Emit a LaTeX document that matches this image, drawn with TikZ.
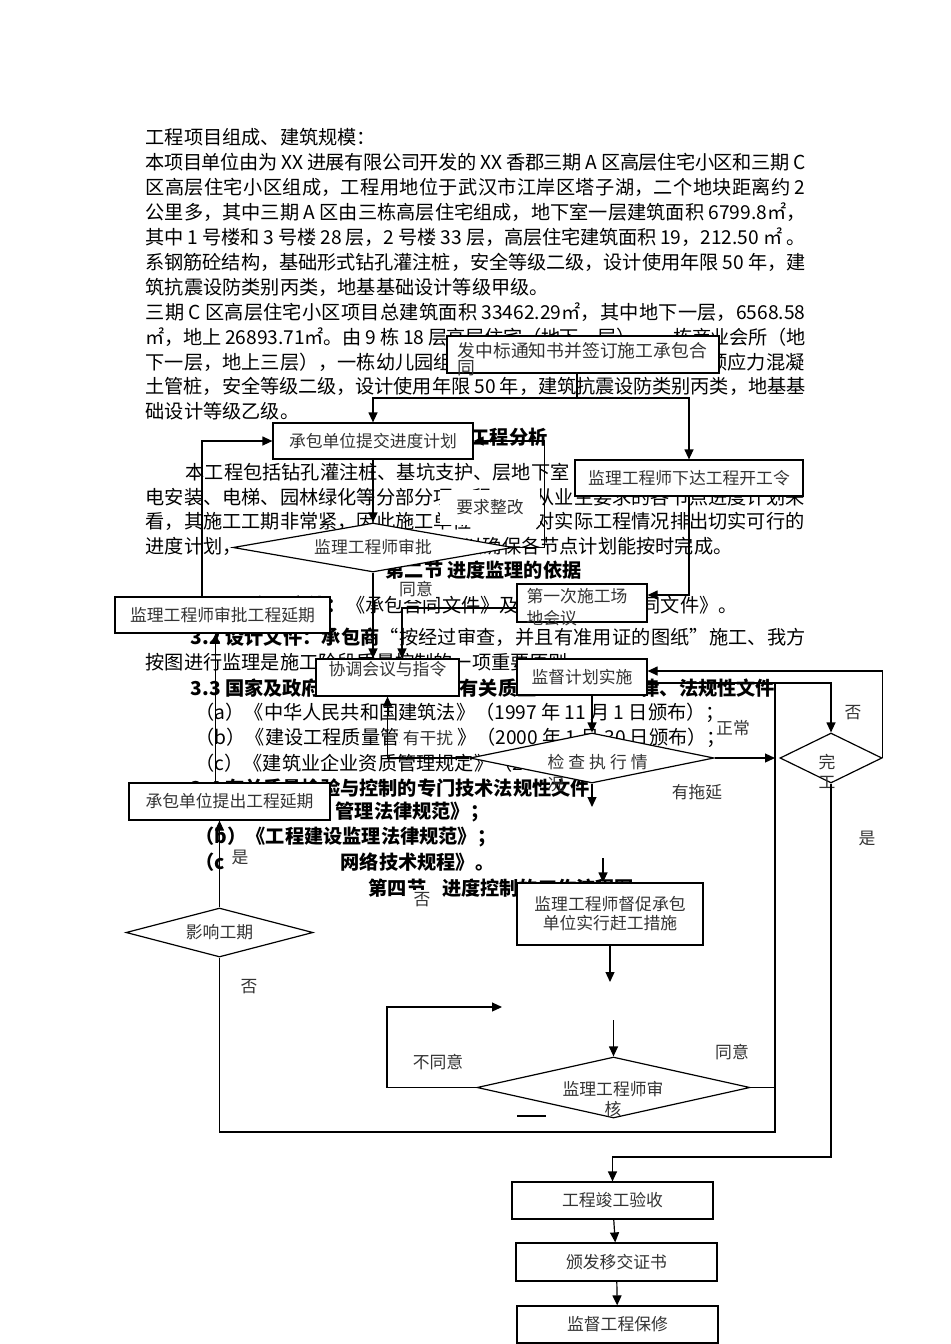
\documentclass[tikz,border=0pt]{standalone}
\usepackage{fontspec}
\setmainfont{Noto Sans CJK SC}
\usetikzlibrary{positioning,shapes.geometric,arrows.meta,calc}

\newcommand\docfont{\fontsize{9.6pt}{11pt}\selectfont}
\newcommand\flowfont{\fontsize{8.4pt}{9.6pt}\selectfont}
% one justified line of the page text
\newcommand\jline[2][330pt]{\parbox{#1}{\XeTeXlinebreaklocale "zh"\XeTeXlinebreakskip=0pt plus 6pt minus 0.6pt\relax
  \parfillskip=0pt\relax\tolerance=10000\relax #2}}

\tikzset{%
  flowarrow/.style = {-{Stealth[length=5pt,width=4.5pt,inset=0pt]}},
  r/.style = {rectangle,draw,fill=white,inner sep=0pt,font=\flowfont,text=black!80},
  dia/.style = {diamond,draw,fill=white,inner sep=0pt,font=\flowfont,text=black!80},
  lbl/.style = {fill=white,inner sep=1.5pt,font=\flowfont,text=black!80},
  ftext/.style = {inner sep=0pt,font=\flowfont,text=black!80},
  doc/.style = {anchor=west,inner sep=0pt,font=\docfont},
  head/.style = {anchor=west,inner sep=0pt,font=\docfont\bfseries}
}

\begin{document}
\begin{tikzpicture}[x=0.5pt,y=-0.5pt,line width=0.6pt]
  \useasboundingbox (0,0) rectangle (950,1344);

  % page text
  \node[doc] (t1) at (145,137) {工程项目组成、建筑规模：};
  \node[doc] (t2) at (145,162) {\jline{本项目单位由为 XX 进展有限公司开发的 XX 香郡三期 A 区高层住宅小区和三期 C}};
  \node[doc] (t3) at (145,187) {\jline{区高层住宅小区组成，工程用地位于武汉市江岸区塔子湖，二个地块距离约 2}};
  \node[doc] (t4) at (145,212) {\jline{公里多，其中三期 A 区由三栋高层住宅组成，地下室一层建筑面积 6799.8㎡，}};
  \node[doc] (t5) at (145,237) {\jline{其中 1 号楼和 3 号楼 28 层，2 号楼 33 层，高层住宅建筑面积 19，212.50 ㎡ 。}};
  \node[doc] (t6) at (145,262) {\jline{系钢筋砼结构，基础形式钻孔灌注桩，安全等级二级，设计使用年限 50 年，建}};
  \node[doc] (t7) at (145,287) {筑抗震设防类别丙类，地基基础设计等级甲级。};
  \node[doc] (t8) at (145,312) {\jline{三期 C 区高层住宅小区项目总建筑面积 33462.29㎡，其中地下一层，6568.58}};
  \node[doc] (t9) at (145,337) {\jline{㎡，地上 26893.71㎡。由 9 栋 18 层高层住宅（地下一层），一栋商业会所（地}};
  \node[doc] (t10a) at (145,362) {下一层，地上三层），一栋幼儿园组};
  \node[doc,anchor=east] (t10b) at (805,362) {预应力混凝};
  \node[doc] (t11) at (145,386) {\jline{土管桩，安全等级二级，设计使用年限 50 年，建筑抗震设防类别丙类，地基基}};
  \node[doc] (t12) at (145,411) {础设计等级乙级。};
  \node[head] (t13) at (470,437) {工程分析};
  \node[doc] (t14) at (185,472) {本工程包括钻孔灌注桩、基坑支护、层地下室};
  \node[doc] (t15a) at (145,497) {电安装、电梯、园林绿化等分部分项工程，};
  \node[doc,anchor=east] (t15b) at (805,497) {从业主要求的各节点进度计划来};
  \node[doc] (t16a) at (145,521) {看，其施工工期非常紧，因此施工单位};
  \node[doc,anchor=east] (t16b) at (805,521) {对实际工程情况排出切实可行的};
  \node[doc] (t17a) at (145,546) {进度计划，};
  \node[doc,anchor=east] (t17b) at (733,546) {以确保各节点计划能按时完成。};
  \node[head] (t18) at (385,570) {第二节\hspace{2pt}进度监理的依据};
  \node[doc] (t19a) at (215,605) {\textbf{3.1 合同文件：}《承包合同文件》及};
  \node[doc] (t19b) at (641,605) {同文件》。};
  \node[doc] (t20) at (190,637) {\jline[307.5pt]{\textbf{3.2 设计文件：承包商}“按经过审查，并且有准用证的图纸”施工、我方}};
  \node[doc] (t21) at (145,662) {按图进行监理是施工阶段质量控制的一项重要原则。};
  \node[head] (t22a) at (190,688) {3.3 国家及政府};
  \node[head] (t22b) at (459,688) {有关质量};
  \node[head] (t22c) at (640,688) {律、法规性文件};
  \node[doc] (t23) at (195,713) {（a）《中华人民共和国建筑法》（1997 年 11 月 1 日颁布）；};
  \node[doc] (t24) at (195,738) {（b）《建设工程质量管理条例》（2000 年 1 月 30 日颁布）；};
  \node[doc] (t25) at (195,763) {（c）《建筑业企业资质管理规定》（2001 年};
  \node[head] (t26) at (190,788) {3.4 有关质量检验与控制的专门技术法规性文件};
  \node[head] (t27) at (335,812) {管理法律规范》；};
  \node[head] (t28) at (195,837) {（b）《工程建设监理法律规范》；};
  \node[head] (t29a) at (195,862) {（c};
  \node[head] (t29b) at (340,862) {网络技术规程》。};
  \node[head] (t30) at (368,888) {第四节\hspace{8pt}进度控制的工作流程图};

  % flow chart
  \node[r, minimum width=136pt, minimum height=18.5pt] (award) at (583,354.5) {};
  \node[ftext, anchor=north west, align=left, font=\fontsize{8.9pt}{8.5pt}\selectfont] (award-text)
    at (457,342) {发中标通知书并签订施工承包合\\同};
  \node[r, minimum width=100pt, minimum height=18pt] (plan) at (373,441) {承包单位提交进度计划};
  \node[r, minimum width=114pt, minimum height=18pt] (start) at (689,478) {监理工程师下达工程开工令};
  \node[dia, aspect=5.7, minimum width=140pt, minimum height=24.5pt] (approve) at (373,547.5) {监理工程师审批};
  \node[r, minimum width=107.5pt, minimum height=18pt] (extapprove) at (222.5,615) {监理工程师审批工程延期};
  \node[r, minimum width=65pt, minimum height=19pt] (site) at (582,603) {};
  \node[ftext, anchor=north west, align=left] (site-text) at (526,588) {第一次施工场\\[1pt]地会议};
  \node[r, minimum width=71.5pt, minimum height=18.5pt, text depth=9pt] (coord) at (387.5,677.5) {协调会议与指令};
  \node[r, minimum width=65pt, minimum height=18pt] (monitor) at (582,677) {监督计划实施};
  \node[dia, aspect=4.9, minimum width=122pt, minimum height=25pt] (check) at (592,758) {};
  \node[ftext, anchor=north west, align=left] (check-text)
    at (547,754) {检\hspace{2pt}查\hspace{2pt}执\hspace{2pt}行\hspace{2pt}情\\[1.4pt]况};
  \node[dia, aspect=2.04, minimum width=51pt, minimum height=25pt] (done) at (831,758) {};
  \node[ftext, anchor=north, align=center] (done-text) at (827,754) {完\\[0.4pt]工};
  \node[r, minimum width=100.5pt, minimum height=18.5pt] (extreq) at (229.5,801.5) {承包单位提出工程延期};
  \node[r, minimum width=93pt, minimum height=31pt, align=center] (urge) at (610,914) {监理工程师督促承包\\单位实行赶工措施};
  \node[dia, aspect=3.8, minimum width=93.5pt, minimum height=24.5pt] (impact) at (219.5,932.5) {影响工期};
  \node[dia, aspect=4.5, minimum width=136.5pt, minimum height=30.5pt] (review) at (613.5,1087.5) {};
  \node[ftext, align=center] (review-text) at (613,1099) {监理工程师审\\核};
  \node[r, minimum width=100.5pt, minimum height=18.5pt] (accept) at (612.5,1200.5) {工程竣工验收};
  \node[r, minimum width=100.5pt, minimum height=19pt] (cert) at (616.5,1262) {颁发移交证书};
  \node[r, minimum width=100.5pt, minimum height=18.5pt] (warranty) at (617.5,1324.5) {监督工程保修};

  \coordinate (split) at (577,398);
  \coordinate (railtop) at (775,683);
  \coordinate (railbot) at (775,1132);
  \coordinate (delay) at (603,807);
  \coordinate (urgein) at (603,858);
  \coordinate (urgeout) at (609,982);
  \coordinate (revin) at (613.5,1020);
  \coordinate (loopx) at (387,1007);
  \coordinate (redo) at (502,1007);
  \coordinate (handover) at (831,1157);

  \draw (award.south -| split) -- (split);
  \draw[flowarrow] (split) -| (plan.north);
  \draw[flowarrow] (split) -| (start.north);
  \draw[flowarrow] (plan) -- (approve);
  \draw[flowarrow] (approve.east) -- ++(31,0) |- (plan.east);
  \draw[flowarrow] (approve.south) -- (approve.south |- coord.north);
  \draw[flowarrow] (start.south) |- ([yshift=4pt]site.east);
  \draw[flowarrow] ([yshift=-2.5pt]site.west) -| ($(coord.north)+(14.5,0)$);
  \draw[flowarrow] (check.west) -| (coord.south);
  \draw[flowarrow] (monitor.south -| check.north) -- (check.north);
  \draw[flowarrow] (check.east) -- (check.east -| railtop);
  \draw[flowarrow] (monitor.east |- railtop) -| (done.north);
  \draw (railtop) -- (railbot) -| (impact.south);
  \draw[flowarrow] (done.east) |- ([yshift=3pt]monitor.east);
  \draw[flowarrow] (done.south) -- (handover) -| (accept.north);
  \draw[flowarrow] (accept) -- (cert);
  \draw[flowarrow] (cert) -- (warranty);
  \draw[flowarrow] (check.south) -- (check.south |- delay);
  \draw[flowarrow] (urgein) -- (urgein |- urge.north);
  \draw[flowarrow] (urge.south) -- (urge.south |- urgeout);
  \draw[flowarrow] (revin) -- (review.north);
  \draw[flowarrow] (review.west) -| (loopx) -- (redo);
  \draw (review.east) -- (review.east -| railbot);
  \draw[flowarrow] (impact.north) -- (impact.north |- extreq.south);
  \draw[flowarrow] ([xshift=-7pt]extreq.north) -- ([xshift=-7pt]extreq.north |- extapprove.south);
  \draw[flowarrow] ([xshift=-10.25pt]extapprove.north) |- (plan.west);
  \draw (517,1116) -- (546,1116);

  % connector labels
  \node[lbl, minimum width=50pt, minimum height=17.5pt] (fix-label) at (490,507) {要求整改};
  \node[lbl] (ok-label) at (416,589) {同意};
  \node[lbl, minimum width=26pt] (jam-label) at (428,738) {有干扰};
  \node[lbl] (normal-label) at (733,728) {正常};
  \node[lbl] (delay-label) at (697,792) {有拖延};
  \node[lbl] (notdone-label) at (853,713) {否};
  \node[lbl] (done-label) at (867,838) {是};
  \node[lbl] (yes-label) at (240,857) {是};
  \node[lbl] (no-label) at (249,987) {否};
  \node[lbl] (stray-label) at (422,900) {否};
  \node[lbl] (reject-label) at (438,1062) {不同意};
  \node[lbl] (agree-label) at (732,1052) {同意};
\end{tikzpicture}
\end{document}
